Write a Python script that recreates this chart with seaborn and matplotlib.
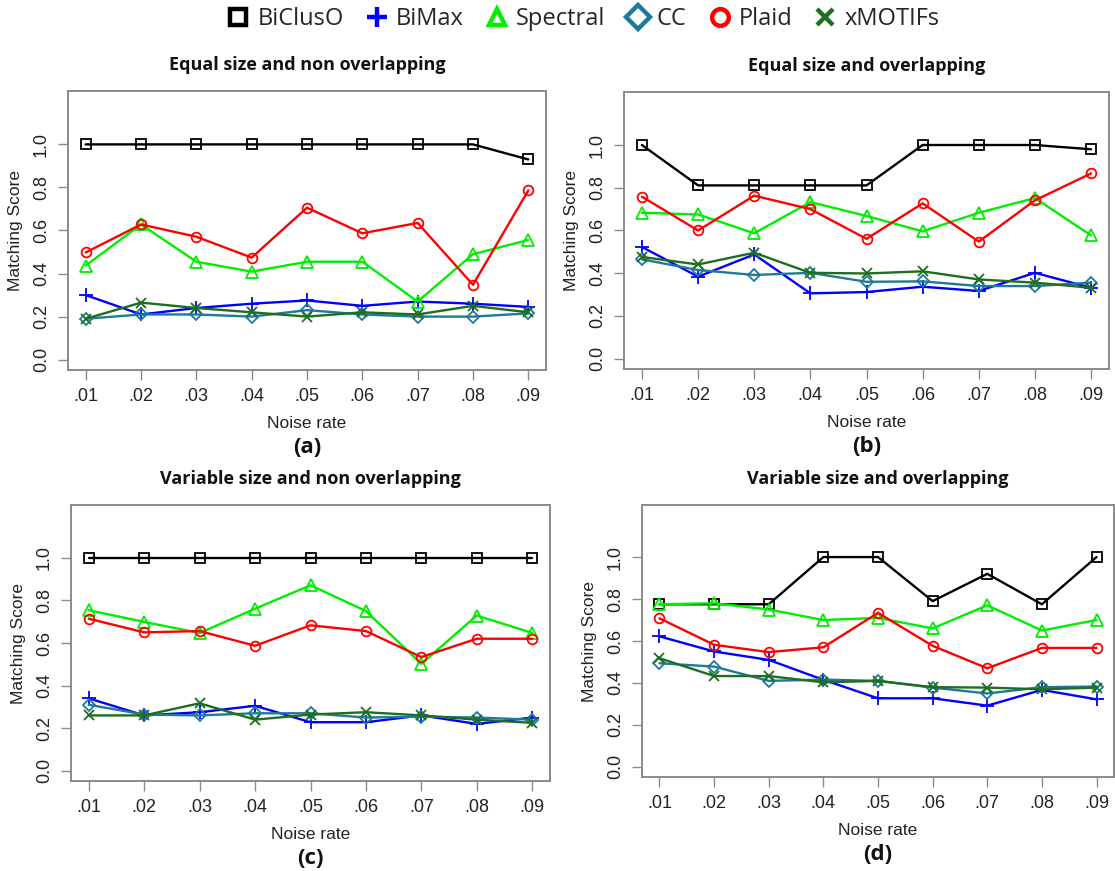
import matplotlib
matplotlib.use("Agg")
import matplotlib.pyplot as plt
from matplotlib.lines import Line2D
import seaborn as sns
import pandas as pd

# ---------------- data ----------------
noise = [0.01, 0.02, 0.03, 0.04, 0.05, 0.06, 0.07, 0.08, 0.09]
noise_labels = [".01", ".02", ".03", ".04", ".05", ".06", ".07", ".08", ".09"]
methods = ["BiClusO", "BiMax", "Spectral", "CC", "Plaid", "xMOTIFs"]
panel_titles = ["Equal size and non overlapping", "Equal size and overlapping",
                "Variable size and non overlapping", "Variable size and overlapping"]
panel_tags = ["(a)", "(b)", "(c)", "(d)"]
y_ticks = [0.0, 0.2, 0.4, 0.6, 0.8, 1.0]

# (a) Equal size and non overlapping
a_biclus = [1.0, 1.0, 1.0, 1.0, 1.0, 1.0, 1.0, 1.0, 0.93]
a_bimax = [0.30, 0.21, 0.24, 0.26, 0.275, 0.25, 0.27, 0.26, 0.245]
a_spectral = [0.437, 0.628, 0.455, 0.409, 0.455, 0.455, 0.27, 0.49, 0.556]
a_cc = [0.19, 0.21, 0.21, 0.20, 0.23, 0.21, 0.20, 0.20, 0.215]
a_plaid = [0.498, 0.628, 0.571, 0.474, 0.706, 0.587, 0.635, 0.348, 0.786]
a_xmotifs = [0.19, 0.265, 0.24, 0.22, 0.20, 0.22, 0.21, 0.25, 0.22]

# (b) Equal size and overlapping
b_biclus = [1.0, 0.811, 0.811, 0.811, 0.811, 1.0, 1.0, 1.0, 0.98]
b_bimax = [0.523, 0.384, 0.488, 0.306, 0.312, 0.337, 0.317, 0.402, 0.332]
b_spectral = [0.683, 0.675, 0.587, 0.733, 0.668, 0.596, 0.683, 0.752, 0.577]
b_cc = [0.465, 0.415, 0.392, 0.402, 0.36, 0.362, 0.34, 0.34, 0.356]
b_plaid = [0.758, 0.60, 0.763, 0.70, 0.561, 0.727, 0.548, 0.741, 0.867]
b_xmotifs = [0.476, 0.441, 0.496, 0.402, 0.399, 0.409, 0.371, 0.356, 0.332]

# (c) Variable size and non overlapping
c_biclus = [1.0, 1.0, 1.0, 1.0, 1.0, 1.0, 1.0, 1.0, 1.0]
c_bimax = [0.34, 0.26, 0.275, 0.305, 0.228, 0.228, 0.26, 0.22, 0.25]
c_spectral = [0.754, 0.699, 0.647, 0.761, 0.871, 0.75, 0.502, 0.729, 0.647]
c_cc = [0.31, 0.264, 0.26, 0.27, 0.27, 0.25, 0.254, 0.25, 0.24]
c_plaid = [0.714, 0.65, 0.656, 0.587, 0.683, 0.656, 0.534, 0.62, 0.62]
c_xmotifs = [0.26, 0.26, 0.317, 0.24, 0.264, 0.275, 0.26, 0.24, 0.225]

# (d) Variable size and overlapping
d_biclus = [0.775, 0.775, 0.775, 1.0, 1.0, 0.79, 0.92, 0.775, 1.0]
d_bimax = [0.622, 0.55, 0.51, 0.415, 0.327, 0.327, 0.292, 0.367, 0.322]
d_spectral = [0.775, 0.78, 0.75, 0.70, 0.71, 0.66, 0.77, 0.65, 0.70]
d_cc = [0.494, 0.478, 0.41, 0.416, 0.41, 0.378, 0.35, 0.38, 0.383]
d_plaid = [0.708, 0.582, 0.547, 0.57, 0.734, 0.577, 0.47, 0.567, 0.567]
d_xmotifs = [0.518, 0.433, 0.433, 0.403, 0.41, 0.38, 0.378, 0.37, 0.378]

panels = [
    [a_biclus, a_bimax, a_spectral, a_cc, a_plaid, a_xmotifs],
    [b_biclus, b_bimax, b_spectral, b_cc, b_plaid, b_xmotifs],
    [c_biclus, c_bimax, c_spectral, c_cc, c_plaid, c_xmotifs],
    [d_biclus, d_bimax, d_spectral, d_cc, d_plaid, d_xmotifs],
]

# ---------------- style ----------------
colors = {"BiClusO": "#000000", "BiMax": "#0000FF", "Spectral": "#00EE00",
          "CC": "#1F7A9A", "Plaid": "#FF0000", "xMOTIFs": "#1F6E1F"}
markers = {"BiClusO": "s", "BiMax": "+", "Spectral": "^", "CC": "D",
           "Plaid": "o", "xMOTIFs": "x"}
msizes = {"BiClusO": 7, "BiMax": 10, "Spectral": 8, "CC": 6.2, "Plaid": 7, "xMOTIFs": 7.5}

sns.set_theme(style="white")
plt.rcParams["font.family"] = ["Liberation Sans", "DejaVu Sans"]

W, H = 1115, 871
fig = plt.figure(figsize=(W / 100, H / 100), dpi=100)

# axes boxes in pixels: left, top, right, bottom
boxes = [(68, 91, 546, 370), (624, 92, 1109, 369),
         (71, 505, 550, 781), (642, 505, 1114, 777)]

frame_col = "#8a8a8a"
for idx, (box, series) in enumerate(zip(boxes, panels)):
    l, t, r, b = box
    ax = fig.add_axes([l / W, 1 - b / H, (r - l) / W, (b - t) / H])
    for m, vals in zip(methods, series):
        df = pd.DataFrame({"noise": noise, "score": vals})
        sns.lineplot(data=df, x="noise", y="score", ax=ax, color=colors[m],
                     marker=markers[m], markersize=msizes[m], linewidth=1.7,
                     markerfacecolor="none", markeredgecolor=colors[m],
                     markeredgewidth=1.3, legend=False)
    ax.set_xlim(0.01 - 0.0032, 0.09 + 0.0032)
    ax.set_ylim(-0.048, 1.248)
    ax.set_xticks(noise)
    ax.set_xticklabels(noise_labels)
    ax.set_yticks(y_ticks)
    ax.set_yticklabels([f"{v:.1f}" for v in y_ticks], rotation=90, va="center")
    ax.tick_params(axis="both", which="both", direction="out", length=7,
                   width=1.0, color=frame_col, labelsize=13, labelcolor="#222222",
                   pad=6, left=True, bottom=True)
    for sp in ax.spines.values():
        sp.set_color(frame_col)
        sp.set_linewidth(1.4)
    ax.grid(False)
    ax.set_xlabel("Noise rate", fontsize=12.5, color="#222222", labelpad=8)
    ax.set_ylabel("Matching Score", fontsize=12.5, color="#222222", labelpad=7)
    ax.set_title(panel_titles[idx], fontsize=13, fontweight="bold",
                 family=["Open Sans", "DejaVu Sans"], pad=15, color="#111111")
    cx = (l + r) / 2
    tag_y = b + 77
    fig.text(cx / W, 1 - tag_y / H, panel_tags[idx], ha="center", va="center",
             fontsize=16, fontweight="bold", family=["Open Sans", "DejaVu Sans"],
             color="#111111")

# legend
handles = [Line2D([], [], linestyle="none", marker=markers[m], color=colors[m],
                  markersize=12 if m != "BiMax" else 14,
                  markerfacecolor="none", markeredgecolor=colors[m],
                  markeredgewidth=3.2) for m in methods]
fig.legend(handles, methods, loc="center", bbox_to_anchor=(583 / W, 1 - 19 / H),
           ncol=6, frameon=False, handletextpad=0.3,
           columnspacing=0.9, handlelength=1.0,
           prop={"family": ["Open Sans", "DejaVu Sans"], "size": 17})

fig.savefig("out.png", dpi=100)
